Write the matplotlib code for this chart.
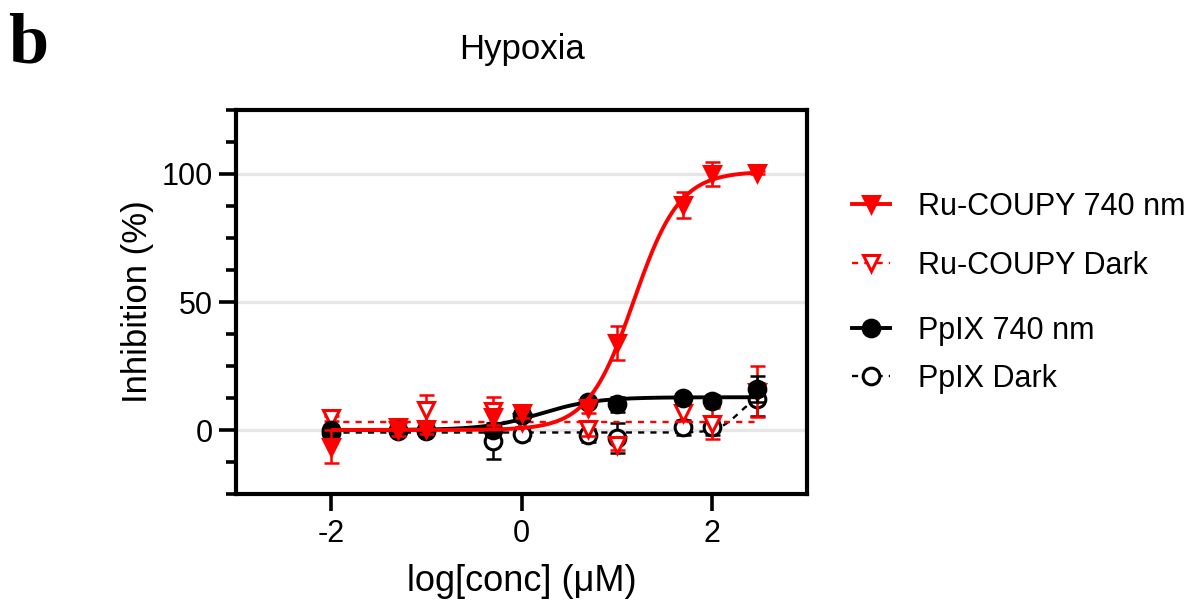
import numpy as np
import matplotlib
matplotlib.use("Agg")
import matplotlib.pyplot as plt
from matplotlib.lines import Line2D
from matplotlib.ticker import MultipleLocator, FixedLocator

plt.rcParams['font.family'] = ['Liberation Sans', 'DejaVu Sans']

# ---------------- data ----------------
log_conc = [-2, -1.3, -1, -0.3, 0, 0.7, 1, 1.7, 2, 2.477]

ru_740 = [-6.5, 0, 0.5, 5, 6.5, 8.5, 34, 88, 100, 100.5]
ru_740_err = [6.5, 2.5, 2, 3, 2, 2, 6.5, 5, 4.5, 0.5]

ru_dark = [4.5, 1, 8, 7.5, 3, 0.5, -6, 6.5, 2.5, 15]
ru_dark_err = [1, 1, 5.5, 5.5, 2, 3, 2, 3, 6, 10]

ppix_740 = [0, 0, 0, 0, 6, 11, 10, 12.5, 11.5, 16]
ppix_740_err = [1, 1, 1, 1.5, 2, 1.5, 3, 1, 2, 5]

ppix_dark = [-1, -0.5, -0.5, -4.2, -1.5, -2, -3, 1, 1, 12]
ppix_dark_err = [1, 1, 1, 7, 2.5, 2.5, 5.8, 3, 3, 6.5]

# fitted curve parameters (bottom, top, logEC50, hill)
ru_740_fit = (0.0, 101.0, 1.18, 1.8)
ppix_740_fit = (0.0, 12.8, 0.2, 1.5)
ppix_dark_fit = (-1.0, 14.0, 2.28, 4.0)
ru_dark_level = 3.2

labels = ["Ru-COUPY 740 nm", "Ru-COUPY Dark", "PpIX 740 nm", "PpIX Dark"]
x_ticks = [-2, 0, 2]
y_ticks = [0, 50, 100]

RED = '#ff0000'
BLACK = '#000000'


def four_pl(x, p):
    bottom, top, ec, h = p
    return bottom + (top - bottom) / (1 + 10 ** ((ec - x) * h))


fig = plt.figure(figsize=(11.92, 6.05), dpi=100)
ax = fig.add_axes([236 / 1192, 1 - 494 / 605, (807 - 236) / 1192, (494 - 110) / 605])

xfit = np.linspace(log_conc[0], log_conc[-1], 400)

MS = 12
MEW = 2.2
CAP = 5.4
ELW = 1.8
dash = (0, (2.6, 2.6))

styles = {
    'ppix_dark': dict(color=BLACK, marker='o', mfc='white', mec=BLACK, ls=dash, lw=1.7, z=3),
    'ru_dark': dict(color=RED, marker='v', mfc='white', mec=RED, ls=dash, lw=1.7, z=4),
    'ppix_740': dict(color=BLACK, marker='o', mfc=BLACK, mec=BLACK, ls='-', lw=2.8, z=5),
    'ru_740': dict(color=RED, marker='v', mfc=RED, mec=RED, ls='-', lw=2.8, z=6),
}

series = {
    'ppix_dark': (ppix_dark, ppix_dark_err, four_pl(xfit, ppix_dark_fit)),
    'ru_dark': (ru_dark, ru_dark_err, np.full_like(xfit, ru_dark_level)),
    'ppix_740': (ppix_740, ppix_740_err, four_pl(xfit, ppix_740_fit)),
    'ru_740': (ru_740, ru_740_err, four_pl(xfit, ru_740_fit)),
}

for key in ['ppix_dark', 'ru_dark', 'ppix_740', 'ru_740']:
    y, e, yf = series[key]
    s = styles[key]
    ax.plot(xfit, yf, color=s['color'], ls=s['ls'], lw=s['lw'], zorder=s['z'] - 0.5,
            solid_capstyle='butt', dash_capstyle='butt')
    ax.errorbar(log_conc, y, yerr=e, fmt='none', ecolor=s['color'], elinewidth=ELW,
                capsize=CAP, capthick=ELW, zorder=s['z'])
    ax.plot(log_conc, y, ls='none', marker=s['marker'], ms=MS, mfc=s['mfc'],
            mec=s['mec'], mew=MEW, zorder=s['z'] + 0.2)

# axes styling
ax.set_xlim(-3, 3)
ax.set_ylim(-25, 125)
ax.xaxis.set_major_locator(FixedLocator(x_ticks))
ax.yaxis.set_major_locator(FixedLocator(y_ticks))
ax.yaxis.set_minor_locator(MultipleLocator(12.5))
for sp in ax.spines.values():
    sp.set_linewidth(3.0)
ax.tick_params(axis='both', which='major', length=12, width=2.6, labelsize=22, direction='out')
ax.tick_params(axis='y', which='major', pad=5)
ax.tick_params(axis='x', which='major', pad=6)
ax.tick_params(axis='y', which='minor', length=7, width=2.6)
ax.tick_params(axis='x', which='minor', length=0)
ax.set_xticklabels([str(t) for t in x_ticks])
ax.set_yticklabels([str(t) for t in y_ticks])
for yv in y_ticks:
    ax.axhline(yv, color='#e6e6e6', lw=2.4, zorder=0)

ax.set_xlabel("log[conc] (μM)", fontsize=26, labelpad=11)
ax.set_ylabel("Inhibition (%)", fontsize=25, labelpad=5)

fig.text((236 + 807) / 2 / 1192, 1 - 50 / 605, "Hypoxia", ha='center', va='center', fontsize=25)
fig.text(8 / 1192, 1 - 45 / 605, "b", ha='left', va='center', fontsize=52,
         fontweight='bold', family=['Liberation Serif', 'DejaVu Serif'])

# legend entries (irregular spacing as in the reference)
leg_rows = [207, 266, 331, 379]
leg_keys = ['ru_740', 'ru_dark', 'ppix_740', 'ppix_dark']
for key, lab, yrow in zip(leg_keys, labels, leg_rows):
    s = styles[key]
    h = Line2D([], [], color=s['color'], ls=s['ls'], lw=s['lw'], marker=s['marker'],
               ms=MS, mfc=s['mfc'], mec=s['mec'], mew=MEW)
    fig.legend(handles=[h], labels=[lab], loc='center left',
               bbox_to_anchor=(852 / 1192, 1 - yrow / 605), frameon=False,
               fontsize=22, handlelength=1.25, handletextpad=0.9, borderpad=0,
               borderaxespad=0, numpoints=1)

fig.savefig("out.png", dpi=100)
